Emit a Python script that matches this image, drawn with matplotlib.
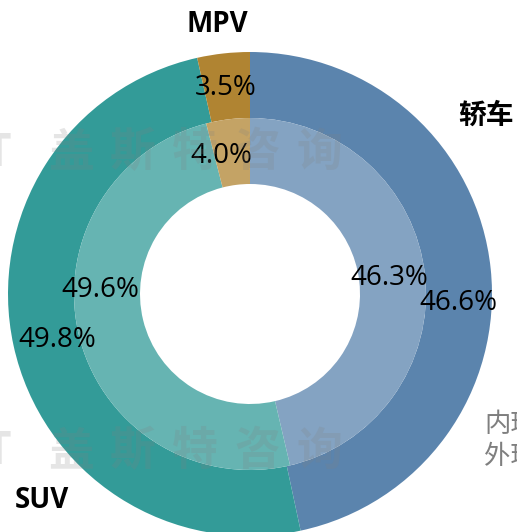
import matplotlib.pyplot as plt

plt.rcParams['font.family'] = ['Open Sans', 'Noto Sans CJK SC', 'DejaVu Sans']

# data
categories = ['轿车', 'SUV', 'MPV']
outer_share = [46.6, 49.8, 3.5]   # 外环
inner_share = [46.3, 49.6, 4.0]   # 内环

outer_colors = ['#5B84AD', '#339B98', '#B08432']
# inner ring = same hue, lightened (75% over white)
def lighten(c, a=0.75):
    r, g, b = [int(c[i:i + 2], 16) for i in (1, 3, 5)]
    return tuple((a * v + (1 - a) * 255) / 255 for v in (r, g, b))
inner_colors = [lighten(c) for c in outer_colors]

W, H = 517, 532
fig = plt.figure(figsize=(W / 100, H / 100), dpi=100)
ax = fig.add_axes([0, 0, 1, 1])

cx, cy = 250, H - 294
R_out, R_in, ring = 242, 176, 66

ax.pie(outer_share, radius=R_out, center=(cx, cy), startangle=90, counterclock=False,
       colors=outer_colors, wedgeprops=dict(width=ring, linewidth=0))
ax.pie(inner_share, radius=R_in, center=(cx, cy), startangle=90, counterclock=False,
       colors=inner_colors, wedgeprops=dict(width=ring, linewidth=0))

ax.set_xlim(0, W)
ax.set_ylim(0, H)
ax.set_aspect('equal')
ax.axis('off')

# percent labels (pixel positions)
outer_pos = [(458, 303), (57, 340), (226, 88)]
inner_pos = [(389, 278), (100, 290), (221, 156)]
for v, (x, y) in zip(outer_share, outer_pos):
    ax.text(x, H - y, f'{v:.1f}%', fontsize=20, ha='center', va='center', color='black', zorder=5)
for v, (x, y) in zip(inner_share, inner_pos):
    ax.text(x, H - y, f'{v:.1f}%', fontsize=20, ha='center', va='center', color='black', zorder=5)

# category names
name_pos = [(486, 116), (42, 501), (217, 25)]
for name, (x, y) in zip(categories, name_pos):
    ax.text(x, H - y, name, fontsize=20, fontweight='bold', ha='center', va='center',
            color='black', zorder=5)

# legend notes at right (clipped in the original)
ax.text(484, H - 425, '内环：2023年', fontsize=19, color='#7F7F7F', ha='left', va='center')
ax.text(484, H - 458, '外环：2022年', fontsize=19, color='#7F7F7F', ha='left', va='center')

# watermark
wm_chars = ['盖', '斯', '特', '咨', '询']
for wy in (153, 452):
    ax.text(11, H - wy, 'T', fontsize=33, fontweight='bold', color='#808080', alpha=0.2,
            ha='right', va='center', zorder=6)
    for k, ch in enumerate(wm_chars):
        ax.text(71 + 62 * k, H - wy, ch, fontsize=33, fontweight='bold', color='#808080',
                alpha=0.2, ha='center', va='center', zorder=6,
                family=['Noto Sans CJK SC'])

fig.savefig('out.png', dpi=100)
